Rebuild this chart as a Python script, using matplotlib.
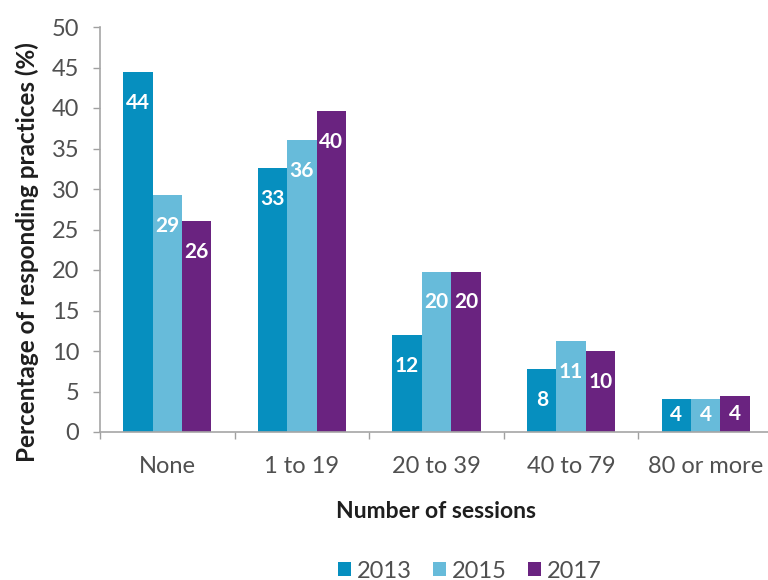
import matplotlib
matplotlib.use("Agg")
import matplotlib.pyplot as plt
import numpy as np

categories = ["None", "1 to 19", "20 to 39", "40 to 79", "80 or more"]
years = ["2013", "2015", "2017"]
values_2013 = [44.4, 32.6, 12.0, 7.8, 4.1]
values_2015 = [29.2, 36.0, 19.8, 11.2, 4.1]
values_2017 = [26.0, 39.6, 19.8, 10.0, 4.4]
colors = ["#068FBF", "#67BBDA", "#6A2380"]

plt.rcParams['font.family'] = ['Lato', 'DejaVu Sans']

fig = plt.figure(figsize=(7.68, 5.8), dpi=100)
# axes: left spine x=100px, x-axis at y=432px, top (50) at y=27px, 134.6 px per category
ax = fig.add_axes([100/768, 148/580, 673/768, 405/580])

series = [values_2013, values_2015, values_2017]
x = np.arange(len(categories))
w = 0.218
handles = []
for k, (vals, col, yr) in enumerate(zip(series, colors, years)):
    pos = x + (k - 1) * w
    b = ax.bar(pos, vals, width=w, color=col, label=yr, zorder=2)
    handles.append(b)
    for xi, v in zip(pos, vals):
        if v < 6:
            ax.text(xi, v / 2, f"{v:.0f}", ha="center", va="center",
                    color="white", fontsize=15, fontweight="bold")
        else:
            ax.annotate(f"{v:.0f}", (xi, v), xytext=(0, -15),
                        textcoords="offset points", ha="center", va="top",
                        color="white", fontsize=15, fontweight="bold")

ax.set_xlim(-0.5, 4.5)
ax.set_ylim(0, 50)
ax.set_yticks(np.arange(0, 51, 5))
ax.set_xticks(x)
ax.set_xticklabels(categories)
ax.set_xticks(np.arange(-0.5, 4.6, 1.0), minor=True)
ax.tick_params(axis="x", which="major", length=0, pad=17, labelsize=17, colors="#505050")
ax.tick_params(axis="x", which="minor", length=5, color="#A0A0A0", width=1)
ax.tick_params(axis="y", length=5, color="#A0A0A0", width=1, labelsize=17,
               labelcolor="#505050", pad=10)
for s in ["top", "right"]:
    ax.spines[s].set_visible(False)
for s in ["left", "bottom"]:
    ax.spines[s].set_color("#A6A6A6")
    ax.spines[s].set_linewidth(1.2)

fig.text(27/768, 1 - 252/580, "Percentage of responding practices (%)", rotation=90,
         ha="center", va="center", fontsize=17.5, fontweight="bold", color="#1E1E1E")
fig.text(436/768, 1 - 512/580, "Number of sessions", ha="center", va="center",
         fontsize=16.5, fontweight="bold", color="#1E1E1E")

fig.legend(handles=handles, labels=years, loc="center", ncol=3,
           bbox_to_anchor=(470/768, 1 - 571/580), frameon=False, fontsize=17,
           handlelength=0.55, handleheight=0.55, handletextpad=0.25, columnspacing=0.9,
           labelcolor="#505050")

fig.savefig("out.png", dpi=100)
